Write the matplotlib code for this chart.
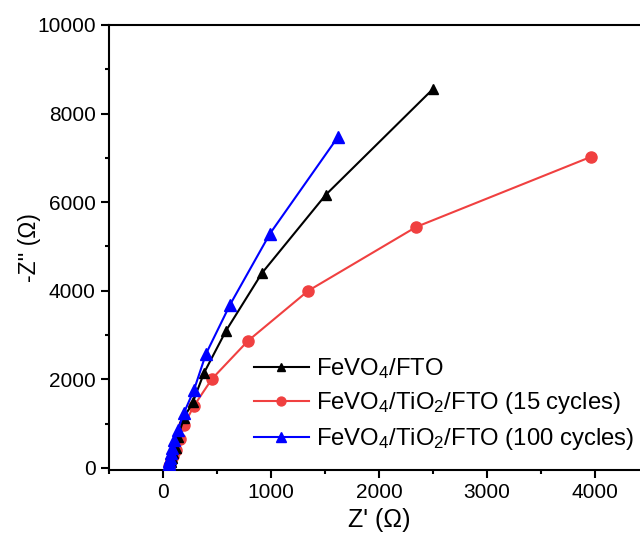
import matplotlib
matplotlib.use("Agg")
import matplotlib.pyplot as plt
from matplotlib.ticker import MultipleLocator

plt.rcParams['font.family'] = ['Liberation Sans', 'DejaVu Sans']
plt.rcParams['mathtext.default'] = 'regular'

# FeVO4/FTO
x_black = [55, 62, 70, 80, 95, 120, 139, 194, 278, 380, 583, 917, 1509, 2500]
y_black = [20, 70, 140, 230, 330, 450, 700, 1129, 1490, 2144, 3093, 4400, 6170, 8555]
# FeVO4/TiO2/FTO (15 cycles)
x_red = [60, 68, 78, 92, 120, 157, 194, 287, 454, 787, 1343, 2345, 3960]
y_red = [30, 90, 170, 270, 406, 655, 970, 1400, 2009, 2867, 3995, 5440, 7020]
# FeVO4/TiO2/FTO (100 cycles)
x_blue = [45, 50, 55, 60, 66, 74, 83, 102, 139, 194, 287, 398, 620, 991, 1620]
y_blue = [10, 40, 90, 150, 230, 330, 450, 632, 858, 1240, 1760, 2573, 3680, 5290, 7472]

labels = ['FeVO$_4$/FTO', 'FeVO$_4$/TiO$_2$/FTO (15 cycles)', 'FeVO$_4$/TiO$_2$/FTO (100 cycles)']

fig = plt.figure(figsize=(6.4, 5.37), dpi=100)
ax = fig.add_axes([109/640, 1-470/537, 540/640, 445/537])

ax.plot(x_black, y_black, color='black', marker='^', markersize=7, lw=1.5, label=labels[0], zorder=3)
ax.plot(x_red, y_red, color='#f04040', marker='o', markersize=8, lw=1.5, label=labels[1], zorder=2)
ax.plot(x_blue, y_blue, color='#0000ff', marker='^', markersize=9, lw=1.5, label=labels[2], zorder=4)

ax.set_xlim(-500, 4500)
ax.set_ylim(-50, 10000)
ax.xaxis.set_major_locator(MultipleLocator(1000))
ax.xaxis.set_minor_locator(MultipleLocator(500))
ax.yaxis.set_major_locator(MultipleLocator(2000))
ax.yaxis.set_minor_locator(MultipleLocator(1000))
ax.tick_params(which='both', direction='out', labelsize=15, width=1.5)
ax.tick_params(which='major', length=6)
ax.tick_params(which='minor', length=3)
for s in ax.spines.values():
    s.set_linewidth(1.5)

ax.set_xlabel("Z' (Ω)", fontsize=18, labelpad=4)
ax.set_ylabel("-Z'' (Ω)", fontsize=16.5, labelpad=-3)

ax.legend(loc='upper left', bbox_to_anchor=(242/640, 1-344/537), bbox_transform=fig.transFigure,
          frameon=False, fontsize=17.2, handlelength=2.3, handletextpad=0.3,
          labelspacing=0.4, borderpad=0, markerscale=0.8)

fig.savefig('out.png', dpi=100)
